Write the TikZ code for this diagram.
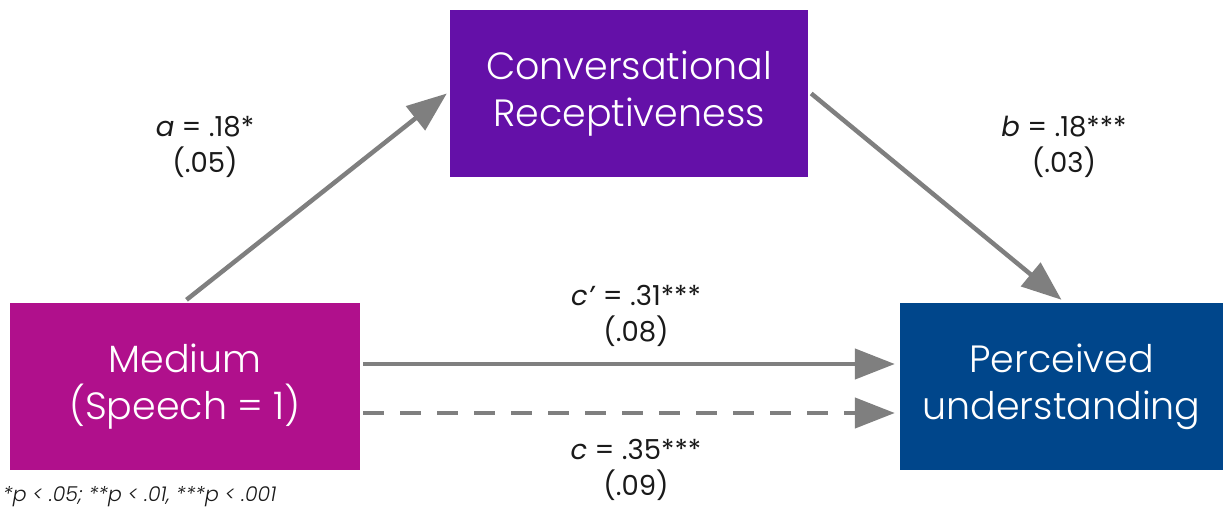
\documentclass[tikz,border=0pt]{standalone}
\usepackage{fontspec}
\setmainfont{Poppins}[UprightFont=* Light, ItalicFont=* Light Italic, BoldFont=* Medium]
\newfontfamily\lblfont{Poppins}
\usetikzlibrary{arrows.meta}
\definecolor{medc}{HTML}{B0108C}
\definecolor{convc}{HTML}{6410A8}
\definecolor{perc}{HTML}{00468B}
\definecolor{arrc}{HTML}{7F7F7F}
\definecolor{txtc}{HTML}{1A1A1A}
\begin{document}
\begin{tikzpicture}[x=1pt,y=-1pt,
  box/.style={draw=none, inner sep=0pt, align=center, text=white,
    font=\fontsize{38}{47}\selectfont},
  lbl/.style={inner sep=0pt, align=center, text=txtc,
    font=\lblfont\fontsize{27.5}{36}\selectfont},
  arr/.style={draw=arrc, line width=4.5pt,
    -{Triangle[length=40pt,width=30pt]}},
  dasharr/.style={arr, dash pattern=on 21pt off 16pt}]
\useasboundingbox (0,0) rectangle (1225,514);
\node[box, fill=medc, minimum width=350pt, minimum height=167pt] (med) at (185,386.5) {Medium\\(Speech = 1)};
\node[box, fill=convc, minimum width=358pt, minimum height=167pt] (conv) at (629,93.5) {Conversational\\Receptiveness};
\node[box, fill=perc, minimum width=323pt, minimum height=167pt] (pu) at (1061.5,386.5) {Perceived\\understanding};
\draw[arr] ([xshift=1.5pt,yshift=3pt]med.north) -- ([xshift=-3pt]conv.west);
\draw[arr] ([xshift=3pt]conv.east) -- ([yshift=3pt]pu.north);
\draw[arr] ([xshift=3pt,yshift=22.5pt]med.east) -- ([xshift=-5pt,yshift=22.5pt]pu.west);
\draw[dasharr] ([xshift=3pt,yshift=-26.5pt]med.east) -- ([xshift=-5pt,yshift=-26.5pt]pu.west);
\node[lbl] (la) at (205,147) {\textit{a} = .18*\\(.05)};
\node[lbl] (lb) at (1064,147) {\textit{b} = .18***\\(.03)};
\node[lbl] (lcp) at (636,316) {\textit{c’} = .31***\\(.08)};
\node[lbl] (lc) at (636,470) {\textit{c} = .35***\\(.09)};
\node[inner sep=0pt, anchor=base west, text=txtc, font=\fontsize{20.5}{24}\selectfont\itshape] (note) at (3,501) {*p < .05; **p < .01, ***p < .001};
\end{tikzpicture}
\end{document}
